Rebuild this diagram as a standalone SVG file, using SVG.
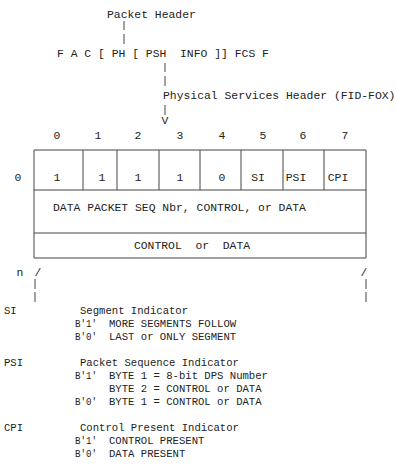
<svg xmlns="http://www.w3.org/2000/svg" width="396" height="469" viewBox="0 0 396 469">
<style>
text{font-family:"Liberation Mono","DejaVu Sans Mono",monospace;font-size:11.4px;fill:#222}
.c{text-anchor:middle}
.s{font-size:10.6px}
line{stroke:#444;stroke-width:1}
</style>
<rect width="396" height="469" fill="#fff"/>
<g id="frame-header">
<text x="107" y="18">Packet Header</text>
<text x="57" y="57" xml:space="preserve">F A C [ PH [ PSH  INFO ]] FCS F</text>
<text x="163" y="99">Physical Services Header (FID-FOX)</text>
<text x="165" y="124" class="c">V</text>
</g>
<g id="connectors">
<line x1="124" y1="21" x2="124" y2="30"/>
<line x1="124" y1="34" x2="124" y2="44"/>
<line x1="165" y1="63" x2="165" y2="72"/>
<line x1="165" y1="76" x2="165" y2="86"/>
<line x1="165" y1="105" x2="165" y2="115"/>
</g>
<g id="bit-numbers">
<text x="57" y="139" class="c">0</text>
<text x="98" y="139" class="c">1</text>
<text x="138" y="139" class="c">2</text>
<text x="180" y="139" class="c">3</text>
<text x="222" y="139" class="c">4</text>
<text x="263" y="139" class="c">5</text>
<text x="303" y="139" class="c">6</text>
<text x="345" y="139" class="c">7</text>
</g>
<g id="psh-grid">
<line x1="34" y1="150" x2="366" y2="150"/>
<line x1="34" y1="190" x2="366" y2="190"/>
<line x1="34" y1="233" x2="366" y2="233"/>
<line x1="34" y1="258" x2="366" y2="258"/>
<line x1="34" y1="150" x2="34" y2="258"/>
<line x1="366" y1="150" x2="366" y2="258"/>
<line x1="83" y1="150" x2="83" y2="190"/>
<line x1="117" y1="150" x2="117" y2="190"/>
<line x1="159" y1="150" x2="159" y2="190"/>
<line x1="200" y1="150" x2="200" y2="190"/>
<line x1="241" y1="150" x2="241" y2="190"/>
<line x1="283" y1="150" x2="283" y2="190"/>
<line x1="324" y1="150" x2="324" y2="190"/>
<line x1="35" y1="279" x2="35" y2="289"/>
<line x1="35" y1="292" x2="35" y2="302"/>
<line x1="366" y1="279" x2="366" y2="289"/>
<line x1="366" y1="292" x2="366" y2="302"/>
<text x="18" y="181" class="c">0</text>
<text x="57" y="181" class="c">1</text>
<text x="102" y="181" class="c">1</text>
<text x="138" y="181" class="c">1</text>
<text x="180" y="181" class="c">1</text>
<text x="222" y="181" class="c">0</text>
<text x="258" y="181" class="c">SI</text>
<text x="296" y="181" class="c">PSI</text>
<text x="338" y="181" class="c">CPI</text>
<text x="53" y="211">DATA PACKET SEQ Nbr, CONTROL, or DATA</text>
<text x="192" y="249" class="c" xml:space="preserve">CONTROL  or  DATA</text>
<text x="20" y="276" class="c">n</text>
<text x="38" y="276" class="c">/</text>
<text x="364" y="276" class="c">/</text>
</g>
<g id="legend-si">
<text x="4" y="314" class="s">SI</text>
<text x="80" y="314" class="s">Segment Indicator</text>
<text x="75" y="327" class="s" textLength="22" lengthAdjust="spacingAndGlyphs">B'1'</text>
<text x="109" y="327" class="s">MORE SEGMENTS FOLLOW</text>
<text x="75" y="340" class="s" textLength="22" lengthAdjust="spacingAndGlyphs">B'0'</text>
<text x="109" y="340" class="s">LAST or ONLY SEGMENT</text>
</g>
<g id="legend-psi">
<text x="4" y="366" class="s">PSI</text>
<text x="80" y="366" class="s">Packet Sequence Indicator</text>
<text x="75" y="379" class="s" textLength="22" lengthAdjust="spacingAndGlyphs">B'1'</text>
<text x="109" y="379" class="s">BYTE 1 = 8-bit DPS Number</text>
<text x="109" y="392" class="s">BYTE 2 = CONTROL or DATA</text>
<text x="75" y="405" class="s" textLength="22" lengthAdjust="spacingAndGlyphs">B'0'</text>
<text x="109" y="405" class="s">BYTE 1 = CONTROL or DATA</text>
</g>
<g id="legend-cpi">
<text x="4" y="431" class="s">CPI</text>
<text x="80" y="431" class="s">Control Present Indicator</text>
<text x="75" y="444" class="s" textLength="22" lengthAdjust="spacingAndGlyphs">B'1'</text>
<text x="109" y="444" class="s">CONTROL PRESENT</text>
<text x="75" y="457" class="s" textLength="22" lengthAdjust="spacingAndGlyphs">B'0'</text>
<text x="109" y="457" class="s">DATA PRESENT</text>
</g>
</svg>
